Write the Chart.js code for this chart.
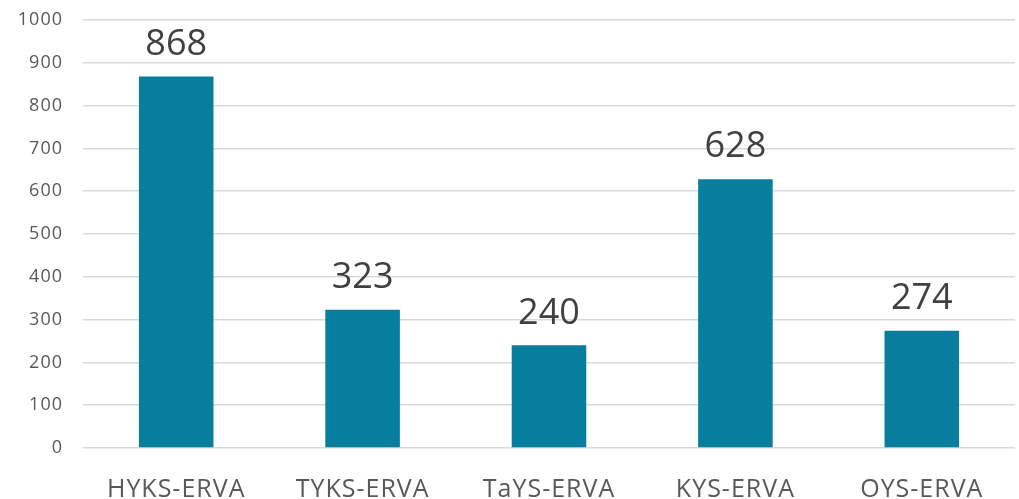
<!DOCTYPE html>
<html>
<head>
<meta charset="utf-8">
<script src="https://cdn.jsdelivr.net/npm/chart.js@4/dist/chart.umd.min.js"></script>
<style>
  html, body { margin: 0; padding: 0; background: #fff; }
  #wrap { width: 1019px; height: 499px; }
</style>
</head>
<body>
<div id="wrap"><canvas id="myChart"></canvas></div>
<script>
const labels = ['HYKS-ERVA', 'TYKS-ERVA', 'TaYS-ERVA', 'KYS-ERVA', 'OYS-ERVA'];
const values = [868, 323, 240, 628, 274];

const ctx = document.getElementById('myChart').getContext('2d');

// étiquettes de valeur au-dessus des barres
const valueLabels = {
  id: 'valueLabels',
  beforeDraw(chart) {
    chart.ctx.letterSpacing = '1px';
  },
  afterDatasetsDraw(chart) {
    const c = chart.ctx;
    const meta = chart.getDatasetMeta(0);
    c.save();
    c.letterSpacing = '0px';
    c.font = '36px "Open Sans"';
    c.fillStyle = '#404040';
    c.textAlign = 'center';
    c.textBaseline = 'bottom';
    meta.data.forEach((bar, i) => {
      c.fillText(values[i], bar.x, bar.y - 14);
    });
    c.restore();
  }
};

new Chart(ctx, {
  type: 'bar',
  data: {
    labels: labels,
    datasets: [{
      data: values,
      backgroundColor: '#077e9e',
      categoryPercentage: 1,
      barPercentage: 0.4,
    }],
  },
  plugins: [valueLabels],
  options: {
    responsive: true,
    maintainAspectRatio: false,
    animation: false,
    layout: { padding: { top: 20, right: 4, left: 0, bottom: 0 } },
    plugins: { legend: { display: false }, tooltip: { enabled: false } },
    scales: {
      x: {
        grid: { display: false },
        border: { display: false },
        ticks: { color: '#595959', font: { family: 'Open Sans', size: 25 }, padding: 19, maxRotation: 0 },
        afterFit(scale) { scale.height = 51; },
      },
      y: {
        min: 0, max: 1000,
        ticks: {
          stepSize: 100, color: '#595959', font: { family: 'Open Sans', size: 18 }, padding: 20,
          callback: (v) => String(v),
        },
        grid: { color: '#d9d9d9', lineWidth: 1.5, drawTicks: false },
        border: { display: false },
        afterFit(scale) { scale.width = 83; scale.paddingTop = 0; scale.paddingBottom = 0; },
      },
    },
  },
});
</script>
</body>
</html>
